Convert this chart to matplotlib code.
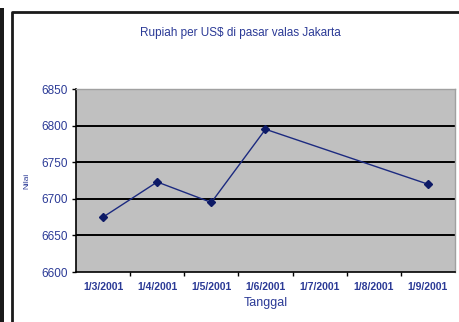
import matplotlib.pyplot as plt
from matplotlib.lines import Line2D
from matplotlib.patches import Rectangle

# kurs rupiah per dolar AS
tanggal = ['1/3/2001', '1/4/2001', '1/5/2001', '1/6/2001',
           '1/7/2001', '1/8/2001', '1/9/2001']
tgl_data = ['1/3/2001', '1/4/2001', '1/5/2001', '1/6/2001', '1/9/2001']
nilai = [6675, 6723, 6695, 6795, 6720]
y_ticks = [6600, 6650, 6700, 6750, 6800, 6850]

teks = '#2b3a96'
fonts = ['Liberation Sans Narrow', 'Liberation Sans', 'DejaVu Sans']
plt.rcParams['font.family'] = fonts

fig = plt.figure(figsize=(4.6, 3.22), dpi=100)
fig.patch.set_facecolor('white')
ax = fig.add_axes([76/460, 50/322, 379/460, 183/322])
ax.set_facecolor('#c0c0c0')

x = [tanggal.index(t) for t in tgl_data]
ax.plot(x, nilai, color='#1c2a80', lw=1.0, marker='D', ms=4.5,
        mfc='#0d1a66', mec='#0d1a66', zorder=3)

ax.set_xlim(-0.5, len(tanggal) - 0.5)
ax.set_ylim(6600, 6850)
ax.set_yticks(y_ticks)
ax.set_yticklabels([str(v) for v in y_ticks], color=teks, fontsize=8.5)
for v in y_ticks[1:-1]:
    ax.axhline(v, color='black', lw=1.4, zorder=1)

ax.set_xticks(range(len(tanggal)))
ax.set_xticklabels(tanggal, color=teks, fontsize=7.5, fontweight='bold')
ax.tick_params(axis='x', which='major', length=0, pad=7)
ax.set_xticks([i + 0.5 for i in range(len(tanggal) - 1)], minor=True)
ax.tick_params(axis='x', which='minor', length=3, width=1, direction='out')
ax.tick_params(axis='y', length=3, width=1, direction='out', pad=3)

for s in ['left', 'bottom']:
    ax.spines[s].set_color('black')
    ax.spines[s].set_linewidth(1.2)
for s in ['top', 'right']:
    ax.spines[s].set_color('#a0a0a0')
    ax.spines[s].set_linewidth(1.0)

ax.set_xlabel('Tanggal', color=teks, fontsize=9, labelpad=4)
ax.set_ylabel('Nilai', color=teks, fontsize=6, labelpad=8)
fig.text(240/460, 1 - 33/322, 'Rupiah per US$ di pasar valas Jakarta',
         ha='center', va='center', color=teks, fontsize=8.5)

# bingkai di sisi kiri dan atas
fig.patches.append(Rectangle((0, 0), 4/460, 1 - 8/322, transform=fig.transFigure,
                             color='#1a1a1a', lw=0))
fig.lines.append(Line2D([12/460, 12/460, 1], [0, 1 - 12/322, 1 - 12/322],
                        transform=fig.transFigure, color='#1a1a1a', lw=2))

fig.savefig('out.png', dpi=100)
